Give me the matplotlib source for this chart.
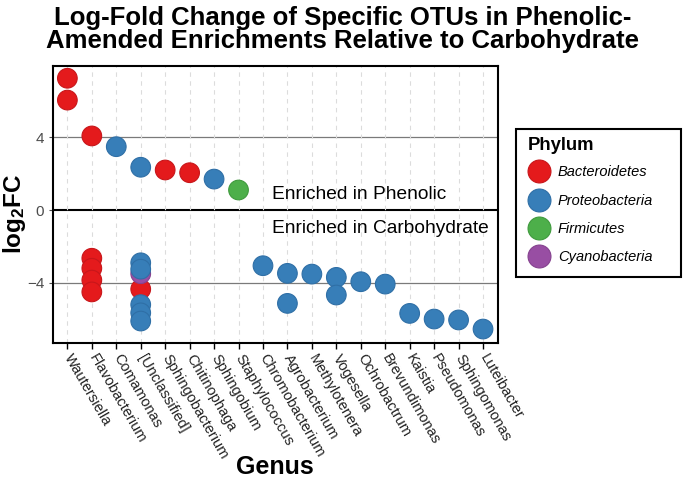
import numpy as np
import matplotlib
matplotlib.use("Agg")
import matplotlib.pyplot as plt
from matplotlib.lines import Line2D
from matplotlib.patches import Rectangle

plt.rcParams['font.family'] = ['Liberation Sans', 'DejaVu Sans']
plt.rcParams['mathtext.fontset'] = 'custom'
plt.rcParams['mathtext.bf'] = 'Liberation Sans:bold'
plt.rcParams['mathtext.rm'] = 'Liberation Sans'

# ---- data ----
genera = ['Wautersiella', 'Flavobacterium', 'Comamonas', '[Unclassified]',
          'Sphingobacterium', 'Chitinophaga', 'Sphingobium', 'Staphylococcus',
          'Chromobacterium', 'Agrobacterium', 'Methylotenera', 'Vogesella',
          'Ochrobactrum', 'Brevundimonas', 'Kaistia', 'Pseudomonas',
          'Sphingomonas', 'Luteibacter']

point_genus = ['Wautersiella', 'Wautersiella',
               'Flavobacterium', 'Flavobacterium', 'Flavobacterium', 'Flavobacterium', 'Flavobacterium',
               'Comamonas',
               '[Unclassified]', '[Unclassified]', '[Unclassified]', '[Unclassified]',
               '[Unclassified]', '[Unclassified]', '[Unclassified]', '[Unclassified]',
               'Sphingobacterium', 'Chitinophaga', 'Sphingobium', 'Staphylococcus',
               'Chromobacterium', 'Agrobacterium', 'Agrobacterium', 'Methylotenera',
               'Vogesella', 'Vogesella', 'Ochrobactrum', 'Brevundimonas',
               'Kaistia', 'Pseudomonas', 'Sphingomonas', 'Luteibacter']
log2fc = [7.24, 6.04,
          4.07, -2.65, -3.2, -3.85, -4.5,
          3.48,
          -4.35, -3.5, 2.35, -2.9, -3.25, -5.2, -5.65, -6.1,
          2.2, 2.05, 1.70, 1.10,
          -3.06, -3.48, -5.13, -3.52,
          -3.70, -4.67, -3.94, -4.07,
          -5.68, -5.99, -6.04, -6.54]
phylum = ['Bacteroidetes', 'Bacteroidetes',
          'Bacteroidetes', 'Bacteroidetes', 'Bacteroidetes', 'Bacteroidetes', 'Bacteroidetes',
          'Proteobacteria',
          'Bacteroidetes', 'Cyanobacteria', 'Proteobacteria', 'Proteobacteria',
          'Proteobacteria', 'Proteobacteria', 'Proteobacteria', 'Proteobacteria',
          'Bacteroidetes', 'Bacteroidetes', 'Proteobacteria', 'Firmicutes',
          'Proteobacteria', 'Proteobacteria', 'Proteobacteria', 'Proteobacteria',
          'Proteobacteria', 'Proteobacteria', 'Proteobacteria', 'Proteobacteria',
          'Proteobacteria', 'Proteobacteria', 'Proteobacteria', 'Proteobacteria']

phyla = ['Bacteroidetes', 'Proteobacteria', 'Firmicutes', 'Cyanobacteria']
phylum_colors = ['#E41A1C', '#377EB8', '#4DAF4A', '#984EA3']
edge_colors = ['#C8161A', '#2F6FA6', '#3F9A3D', '#85428F']
yticks = [-4, 0, 4]
ytick_labels = ['\u22124', '0', '4']

W, H = 686, 480
fig = plt.figure(figsize=(W / 100, H / 100), dpi=100)
ax = fig.add_axes([52.7 / W, (H - 342.7) / H, (497.7 - 52.7) / W, (342.7 - 65.7) / H])

# register category order
ax.plot(genera, np.full(len(genera), np.nan))

cmap = dict(zip(phyla, phylum_colors))
emap = dict(zip(phyla, edge_colors))
ax.scatter(point_genus, log2fc, s=200,
           c=[cmap[p] for p in phylum],
           edgecolors=[emap[p] for p in phylum], linewidths=0.8, zorder=3)

ax.set_xlim(-0.6, len(genera) - 0.4)
ax.set_ylim(-7.29, 7.93)

ax.grid(axis='x', linestyle=(0, (4, 4)), color='#dcdcdc', linewidth=0.8, zorder=0)
ax.grid(axis='y', visible=False)
for yv in (4, -4):
    ax.axhline(yv, color='#7a7a7a', linewidth=0.9, zorder=1)
ax.axhline(0, color='black', linewidth=1.5, zorder=1)

ax.set_yticks(yticks)
ax.set_yticklabels(ytick_labels, fontsize=11, color='#4d4d4d')
ax.set_xticks(range(len(genera)))
ax.set_xticklabels(genera, rotation=-60, ha='left', va='center',
                   rotation_mode='anchor', fontsize=10.5, color='#222222')
ax.tick_params(axis='x', length=4, width=1, color='black', pad=5)
ax.tick_params(axis='y', length=3, width=0.8, color='#4d4d4d', pad=3)

for sp in ax.spines.values():
    sp.set_color('black')
    sp.set_linewidth(1.5)

ax.text(8.38, 0.6, 'Enriched in Phenolic', fontsize=13.8, ha='left', va='baseline')
ax.text(8.38, -1.25, 'Enriched in Carbohydrate', fontsize=13.8, ha='left', va='baseline')

fig.text(275 / W, 1 - 466.7 / H, 'Genus', fontsize=18, fontweight='bold',
         ha='center', va='center')
fig.text(15 / W, 1 - 214 / H, r'$\mathbf{log_2FC}$', fontsize=17.5,
         rotation=90, ha='center', va='center')

fig.text(0.5, 1 - 6 / H, 'Log-Fold Change of Specific OTUs in Phenolic-\nAmended Enrichments Relative to Carbohydrate',
         ha='center', va='top', fontsize=18.5, fontweight='bold', linespacing=0.95)

# legend box
fig.patches.append(Rectangle((515.7 / W, 1 - 277.3 / H), (681 - 515.7) / W, (277.3 - 129) / H,
                             transform=fig.transFigure, facecolor='white',
                             edgecolor='black', linewidth=1.5, zorder=1))
handles = [Line2D([0], [0], marker='o', linestyle='none', markersize=16.5,
                  markerfacecolor=c, markeredgecolor=e, markeredgewidth=0.8)
           for c, e in zip(phylum_colors, edge_colors)]
leg = fig.legend(handles, phyla, title='Phylum', loc='upper left',
                 bbox_to_anchor=(515 / W, 1 - 123.5 / H),
                 frameon=False,
                 prop={'style': 'italic', 'size': 10.5},
                 title_fontproperties={'weight': 'bold', 'size': 13.3},
                 labelspacing=0.98, handletextpad=0.55, borderpad=0.4,
                 handlelength=1.5, alignment='left')
leg.set_zorder(2)
leg._legend_box.sep = 8.5

fig.savefig('out.png', dpi=100)
